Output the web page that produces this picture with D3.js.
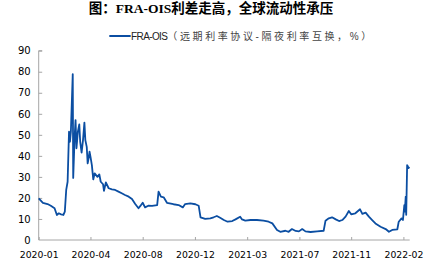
<!DOCTYPE html>
<html>
<head>
<meta charset="utf-8">
<script src="https://cdn.jsdelivr.net/npm/d3@7"></script>
<style>
  body { margin: 0; background: #fff; }
  svg { display: block; }
</style>
</head>
<body>
<div id="wrapper"></div>
<script>
// DATA: days after 2020-01-02, FRA-OIS spread (bp)
const startDay = "2020-01-02";
const endDay = "2022-03-06";
const days = [0, 9, 19, 26, 34, 39, 43, 48, 53, 56, 59, 62, 65, 67, 69, 73, 74, 77, 79, 81, 84, 87, 89, 92,
  95, 98, 100, 103, 105, 107, 109, 111, 114, 117, 120, 126, 130, 133, 138, 140, 144, 150, 157, 164,
  171, 178, 185, 193, 200, 207, 214, 218, 223, 228, 235, 243, 254, 257, 262, 268, 275, 289, 300,
  309, 314, 325, 336, 343, 347, 357, 368, 375, 382, 389, 397, 405, 415, 422, 432, 436, 443, 454,
  468, 482, 493, 501, 511, 518, 529, 536, 543, 551, 558, 565, 572, 583, 597, 611, 615, 622, 629,
  637, 644, 651, 658, 665, 670, 679, 689, 694, 701, 708, 715, 722, 733, 744, 751, 758, 769, 772,
  778, 781, 784, 785, 787, 788, 790, 792, 795];
const values = [19.8, 17.7, 17.1, 16.3, 15.1, 11.9, 12.7, 12.2, 11.9, 13.5, 23.8, 27.7, 51.5, 46.7, 51.5, 78.9, 29.5, 49, 57, 43.6, 51.5, 55, 46.7, 41.5,
  47.5, 55.8, 47.5, 44.3, 36.4, 38.8, 42, 39.6, 35.6, 28.8, 31.7, 30, 31.2, 27.7, 26.5, 23.4, 27.4, 24.6, 24.1, 23.8,
  23, 22.2, 21.4, 20.6, 19.5, 17.1, 15.1, 16.2, 17.7, 15.5, 16.3, 16.2, 16.6, 23, 20.6, 20.3, 17.7, 17, 16.6,
  15.5, 17.1, 17.4, 17, 16.3, 10.8, 10, 10.3, 10.8, 11.4, 10.6, 9.5, 8.7, 9, 9.8, 11.1, 9.8, 9.2, 9.5,
  9.5, 9.2, 8.7, 7.9, 4.8, 3.9, 4.4, 3.9, 5.2, 4.3, 4.1, 5.2, 4.1, 3.8, 4.1, 4.4, 9.2, 10.3, 10.8,
  9.8, 9, 9.5, 11.1, 13.8, 12.2, 12.7, 14.6, 12.4, 13, 11.1, 9.5, 7.9, 6.3, 5.2, 3.9, 4.8, 5.1, 8.7,
  10.3, 9.5, 16.6, 13.5, 20.6, 12, 35.6, 34.8, 34.1];
const tickDates = ["2020-01-02", "2020-04-22", "2020-08-12", "2020-12-02", "2021-03-24", "2021-07-14", "2021-11-02", "2022-02-22"];
const yTicks = [0, 10, 20, 30, 40, 50, 60, 70, 80, 90];
const title = "图：FRA-OIS利差走高，全球流动性承压";
const legendName = "FRA-OIS";
const legendNote = "（远期利率协议-隔夜利率互换，%）";

const parse = d3.timeParse("%Y-%m-%d");
const start = parse(startDay);
const data = days.map((d, i) => ({ date: d3.timeDay.offset(start, d), value: values[i] }));

const width = 430, height = 261;
const margin = { top: 50.7, right: 21, bottom: 21, left: 38.7 };
const lineColor = "#0b4ea2";
const axisColor = "#a6a6a6";

const svg = d3.select("#wrapper").append("svg")
  .attr("width", width)
  .attr("height", height);

const x = d3.scaleTime()
  .domain([start, parse(endDay)])
  .range([margin.left, width - margin.right]);
const y = d3.scaleLinear()
  .domain([0, 90])
  .range([height - margin.bottom, margin.top]);

// title
svg.append("text")
  .attr("x", 211).attr("y", 12.5)
  .attr("text-anchor", "middle")
  .attr("font-family", "'Liberation Serif', 'Noto Sans CJK SC', serif")
  .attr("font-weight", "bold")
  .attr("font-size", 13.5)
  .attr("fill", "#000")
  .text(title);

// legend
svg.append("line")
  .attr("x1", 109.3).attr("x2", 130.7)
  .attr("y1", 36).attr("y2", 36)
  .attr("stroke", lineColor).attr("stroke-width", 2);
const legendText = svg.append("text")
  .attr("x", 131).attr("y", 39.5)
  .attr("font-family", "'Liberation Sans', 'Noto Sans CJK SC', sans-serif")
  .attr("font-size", 10)
  .attr("fill", "#222");
legendText.append("tspan").attr("letter-spacing", -0.6).text(legendName);
legendText.append("tspan").attr("letter-spacing", 2.6).attr("fill", "#444").text(legendNote);

// y axis
const yAxis = svg.append("g")
  .attr("transform", `translate(${margin.left},0)`)
  .call(d3.axisRight(y).tickValues(yTicks).tickSize(3.5).tickFormat(d3.format("d")));
yAxis.select(".domain").attr("stroke", axisColor).attr("d", `M3.5,${y(90)}H0V${y(0)}`);
yAxis.selectAll(".tick line").attr("stroke", axisColor);
yAxis.selectAll(".tick").filter(d => d === 0).select("line").remove();
yAxis.selectAll(".tick text")
  .attr("x", -8)
  .attr("text-anchor", "end")
  .attr("font-family", "'DejaVu Sans', sans-serif")
  .attr("font-size", 10)
  .attr("fill", "#000");

// x axis
const xAxis = svg.append("g")
  .attr("transform", `translate(0,${y(0)})`)
  .call(d3.axisTop(x).tickValues(tickDates.map(parse)).tickSize(3).tickFormat(d3.timeFormat("%Y-%m")));
xAxis.select(".domain").attr("stroke", axisColor).attr("d", `M${margin.left},0H${x.range()[1] + 0.7}`);
xAxis.selectAll(".tick line").attr("stroke", axisColor);
xAxis.selectAll(".tick text")
  .attr("y", 17.5)
  .attr("font-family", "'DejaVu Sans', sans-serif")
  .attr("font-size", 9.3)
  .attr("fill", "#000");

// line
const line = d3.line()
  .x(d => x(d.date))
  .y(d => y(d.value));
svg.append("path")
  .datum(data)
  .attr("fill", "none")
  .attr("stroke", lineColor)
  .attr("stroke-width", 1.8)
  .attr("stroke-linejoin", "round")
  .attr("d", line);
</script>
</body>
</html>
